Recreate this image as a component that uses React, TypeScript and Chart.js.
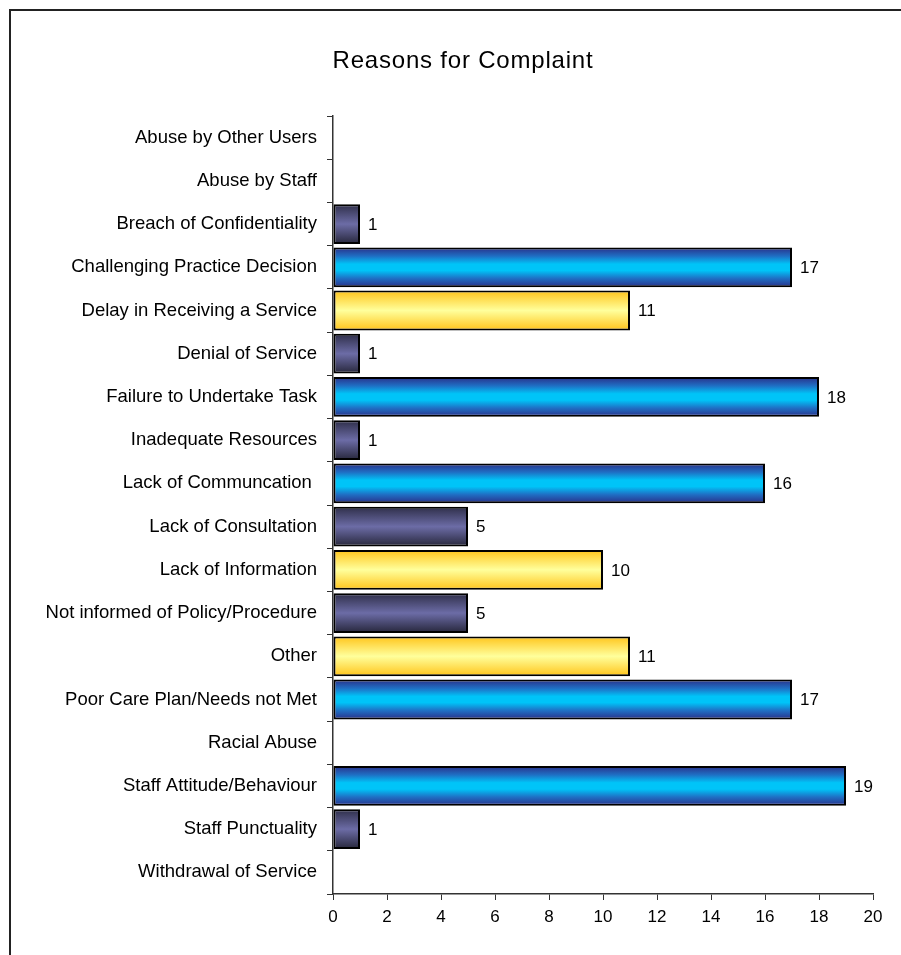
import React, { useEffect, useRef } from "react";
import { Chart, registerables } from "chart.js";

Chart.register(...registerables);

const chartTitle = "Reasons for Complaint";

const categories = [
  "Abuse by Other Users",
  "Abuse by Staff",
  "Breach of Confidentiality",
  "Challenging Practice Decision",
  "Delay in Receiving a Service",
  "Denial of Service",
  "Failure to Undertake Task",
  "Inadequate Resources",
  "Lack of Communcation ",
  "Lack of Consultation",
  "Lack of Information",
  "Not informed of Policy/Procedure",
  "Other",
  "Poor Care Plan/Needs not Met",
  "Racial Abuse",
  "Staff Attitude/Behaviour",
  "Staff Punctuality",
  "Withdrawal of Service",
];

const complaintCounts = [0, 0, 1, 17, 11, 1, 18, 1, 16, 5, 10, 5, 11, 17, 0, 19, 1, 0];

const barTones = [
  "purple", "purple", "purple", "blue", "yellow", "purple", "blue", "purple", "blue",
  "purple", "yellow", "purple", "yellow", "blue", "purple", "blue", "purple", "purple",
];

const xTickMin = 0;
const xTickMax = 20;
const xTickStep = 2;

const FONT = "'Liberation Sans', Arial, sans-serif";

const palette: Record<string, [number, string][]> = {
  blue: [
    [0, "#2a2f88"],
    [0.22, "#1f6fc4"],
    [0.42, "#00c4f8"],
    [0.58, "#00c4f8"],
    [0.78, "#1f6fc4"],
    [1, "#2a2f88"],
  ],
  yellow: [
    [0, "#ffc41a"],
    [0.5, "#ffff9c"],
    [1, "#ffc41a"],
  ],
  purple: [
    [0, "#2e2e48"],
    [0.5, "#6c6ca6"],
    [1, "#26263a"],
  ],
};

const BAR_PCT = 0.92;

const frameAndTitle = {
  id: "frameAndTitle",
  beforeDraw(chart: any) {
    const ctx = chart.ctx;
    ctx.save();
    ctx.fillStyle = "#ffffff";
    ctx.fillRect(0, 0, chart.width, chart.height);
    ctx.strokeStyle = "#222222";
    ctx.lineWidth = 2;
    ctx.beginPath();
    ctx.moveTo(10, chart.height + 2);
    ctx.lineTo(10, 10);
    ctx.lineTo(chart.width + 2, 10);
    ctx.stroke();
    ctx.restore();
  },
  afterDraw(chart: any) {
    const ctx = chart.ctx;
    ctx.save();
    ctx.font = `24px ${FONT}`;
    ctx.fillStyle = "#000000";
    ctx.textAlign = "center";
    ctx.textBaseline = "alphabetic";
    try {
      (ctx as any).letterSpacing = "0.8px";
    } catch (e) {}
    ctx.fillText(chartTitle, 463, 68);
    ctx.restore();
  },
};

const valueLabels = {
  id: "valueLabels",
  afterDatasetsDraw(chart: any) {
    const ctx = chart.ctx;
    const meta = chart.getDatasetMeta(0);
    ctx.save();
    ctx.font = `17px ${FONT}`;
    ctx.fillStyle = "#000000";
    ctx.textAlign = "left";
    ctx.textBaseline = "middle";
    meta.data.forEach((bar: any, i: number) => {
      const v = complaintCounts[i];
      if (v > 0) ctx.fillText(String(v), bar.x + 8, bar.y + 1);
    });
    ctx.restore();
  },
};

const gradientFor = (c: any) => {
  const tone = palette[barTones[c.dataIndex]] || palette.purple;
  const chart = c.chart;
  const y = chart.scales && chart.scales.y;
  if (!y || c.type !== "data" || !y.height) return tone[Math.floor(tone.length / 2)][1];
  const step = y.height / categories.length;
  const h = step * BAR_PCT;
  const center = y.getPixelForValue(c.dataIndex);
  const g = chart.ctx.createLinearGradient(0, center - h / 2, 0, center + h / 2);
  tone.forEach(([o, col]) => g.addColorStop(o, col));
  return g;
};

export default function App() {
  const canvasRef = useRef<HTMLCanvasElement | null>(null);

  useEffect(() => {
    if (!canvasRef.current) return;
    const chart = new Chart(canvasRef.current, {
      type: "bar",
      data: {
        labels: categories,
        datasets: [
          {
            data: complaintCounts,
            backgroundColor: gradientFor as any,
            borderColor: "#000000",
            borderWidth: 2,
            borderSkipped: false,
            barPercentage: BAR_PCT,
            categoryPercentage: 1,
          },
        ],
      },
      options: {
        indexAxis: "y",
        responsive: false,
        animation: false,
        events: [],
        layout: { padding: { top: 116, right: 28, left: 0, bottom: 0 } },
        plugins: {
          legend: { display: false },
          title: { display: false },
          tooltip: { enabled: false },
        },
        scales: {
          y: {
            type: "category",
            offset: true,
            afterFit: (s: any) => {
              s.width = 333;
            },
            grid: {
              display: true,
              drawOnChartArea: false,
              offset: true,
              tickLength: 6,
              color: "#333333",
              lineWidth: 1,
            },
            border: { display: true, color: "#333333", width: 1.5 },
            ticks: {
              font: { family: FONT, size: 18.5 },
              color: "#000000",
              padding: 10,
              autoSkip: false,
            },
          },
          x: {
            type: "linear",
            min: xTickMin,
            max: xTickMax,
            afterFit: (s: any) => {
              s.height = 61;
            },
            grid: {
              display: true,
              drawOnChartArea: false,
              tickLength: 6,
              color: "#333333",
              lineWidth: 1,
            },
            border: { display: true, color: "#333333", width: 1.5 },
            ticks: {
              stepSize: xTickStep,
              font: { family: FONT, size: 17 },
              color: "#000000",
              padding: 7,
            },
          },
        },
      },
      plugins: [frameAndTitle, valueLabels],
    });
    return () => chart.destroy();
  }, []);

  return (
    <div style={{ position: "absolute", left: 0, top: 0, width: 901, height: 955, overflow: "hidden" }}>
      <canvas ref={canvasRef} width={901} height={955} style={{ display: "block" }} />
    </div>
  );
}
